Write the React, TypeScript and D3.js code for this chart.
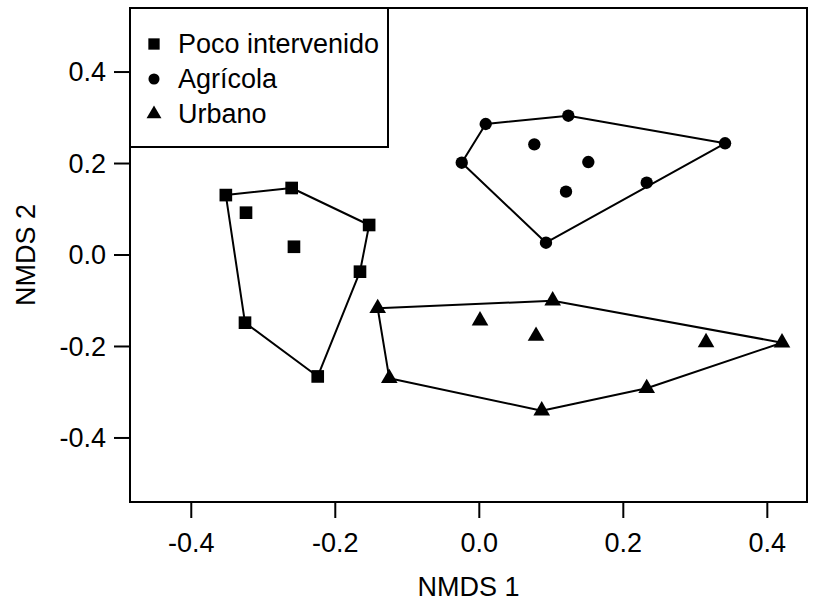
import * as d3 from "d3";

// NMDS ordination, three land-use groups, convex hull around each
const POCO_X = [-0.352, -0.2606, -0.324, -0.2574, -0.153, -0.1657, -0.3254, -0.2244];
const POCO_Y = [0.131, 0.1465, 0.0925, 0.018, 0.0656, -0.0365, -0.148, -0.2655];

const AGRI_X = [0.0089, 0.1236, 0.3413, -0.0244, 0.0764, 0.1514, 0.2325, 0.1204, 0.0926];
const AGRI_Y = [0.2864, 0.3045, 0.2442, 0.2018, 0.242, 0.2033, 0.158, 0.1384, 0.0269];

const URB_X = [-0.1411, 0.1019, 0.001, 0.0788, 0.3149, 0.4204, -0.125, 0.2325, 0.0867];
const URB_Y = [-0.1165, -0.0999, -0.1436, -0.1771, -0.1909, -0.1917, -0.2696, -0.2914, -0.3404];

const X_TICKS = [-0.4, -0.2, 0.0, 0.2, 0.4];
const Y_TICKS = [-0.4, -0.2, 0.0, 0.2, 0.4];

const GROUPS = [
  { label: "Poco intervenido", xs: POCO_X, ys: POCO_Y, symbol: d3.symbolSquare, size: 160 },
  { label: "Agrícola", xs: AGRI_X, ys: AGRI_Y, symbol: d3.symbolCircle, size: 120 },
  { label: "Urbano", xs: URB_X, ys: URB_Y, symbol: d3.symbolTriangle, size: 120 },
];

const FONT = "'Liberation Sans', Arial, Helvetica, sans-serif";
const FS = 27;

export default function App() {
  const width = 817;
  const height = 608;
  const margin = { top: 8, right: 10, bottom: 106, left: 130 };
  const left = margin.left;
  const right = width - margin.right;
  const top = margin.top;
  const bottom = height - margin.bottom;

  const x = d3.scaleLinear().domain([-0.4851, 0.4551]).range([left, right]);
  const y = d3.scaleLinear().domain([-0.54, 0.54]).range([bottom, top]);

  const fmt = d3.format(".1f");
  const tickLabel = (v: number) => fmt(v).replace("−", "-");

  const line = d3.line();

  return (
    <svg
      width={width}
      height={height}
      style={{ position: "absolute", left: 0, top: 0, background: "#fff" }}
      fontFamily={FONT}
    >
      {/* hulls */}
      {GROUPS.map((g) => {
        const pts = g.xs.map((v, i) => [x(v), y(g.ys[i])] as [number, number]);
        const hull = d3.polygonHull(pts) || [];
        return (
          <path
            key={"hull-" + g.label}
            d={line([...hull, hull[0]]) || ""}
            fill="none"
            stroke="#000"
            strokeWidth={2}
            strokeLinejoin="round"
          />
        );
      })}

      {/* points */}
      {GROUPS.map((g) =>
        g.xs.map((v, i) => (
          <path
            key={g.label + i}
            d={d3.symbol(g.symbol, g.size)() || ""}
            transform={`translate(${x(v)},${y(g.ys[i])})`}
            fill="#000"
          />
        ))
      )}

      {/* plot box */}
      <rect x={left} y={top} width={right - left} height={bottom - top} fill="none" stroke="#000" strokeWidth={2} />

      {/* x axis */}
      {X_TICKS.map((t) => (
        <g key={"xt" + t}>
          <line x1={x(t)} x2={x(t)} y1={bottom} y2={bottom + 16} stroke="#000" strokeWidth={2} />
          <text x={x(t)} y={bottom + 50} textAnchor="middle" fontSize={FS}>
            {tickLabel(t)}
          </text>
        </g>
      ))}

      {/* y axis */}
      {Y_TICKS.map((t) => (
        <g key={"yt" + t}>
          <line x1={left - 16} x2={left} y1={y(t)} y2={y(t)} stroke="#000" strokeWidth={2} />
          <text x={left - 24} y={y(t)} dy="0.35em" textAnchor="end" fontSize={FS}>
            {tickLabel(t)}
          </text>
        </g>
      ))}

      <text x={(left + right) / 2} y={596} textAnchor="middle" fontSize={FS}>
        NMDS 1
      </text>
      <text transform={`translate(35,${(top + bottom) / 2}) rotate(-90)`} textAnchor="middle" fontSize={FS}>
        NMDS 2
      </text>

      {/* legend */}
      <rect x={left} y={top} width={258} height={139} fill="#fff" stroke="#000" strokeWidth={2} />
      {GROUPS.map((g, i) => (
        <g key={"lg" + g.label} transform={`translate(0,${44 + i * 35})`}>
          <path d={d3.symbol(g.symbol, g.size * 0.8)() || ""} transform={`translate(154,0)`} fill="#000" />
          <text x={178} y={0} dy="0.35em" fontSize={FS}>
            {g.label}
          </text>
        </g>
      ))}
    </svg>
  );
}
